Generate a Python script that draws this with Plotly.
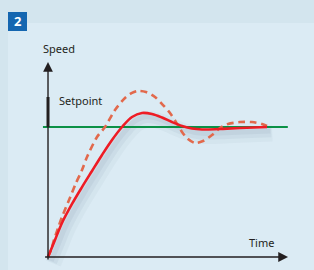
import numpy as np
import plotly.graph_objects as go

# Data (time in arbitrary units, speed relative to setpoint = 1)
time_actual = [0, 0.318, 0.636, 1.091, 1.545, 2.0, 2.455, 2.909, 3.364, 3.818, 4.273,
               4.727, 5.182, 5.636, 6.091, 6.545, 7.0, 7.818, 8.727, 9.955]
speed_actual = [0, 0.131, 0.262, 0.408, 0.538, 0.662, 0.785, 0.900, 1.0, 1.077, 1.108,
                1.100, 1.073, 1.038, 1.008, 0.988, 0.981, 0.985, 0.992, 1.0]

time_dashed = [0, 0.136, 0.273, 0.455, 0.636, 0.955, 1.273, 1.545, 1.773, 2.227, 2.591, 3.045,
               3.5, 3.818, 4.091, 4.455, 4.864, 5.227, 5.545, 5.818, 6.091, 6.364, 6.682,
               7.045, 7.455, 7.818, 8.182, 8.727, 9.273, 9.727, 9.955]
speed_dashed = [0, 0.054, 0.131, 0.223, 0.308, 0.438, 0.569, 0.669, 0.769, 0.923, 1.0, 1.131,
                1.223, 1.262, 1.277, 1.269, 1.231, 1.169, 1.108, 1.038, 0.962, 0.908, 0.877,
                0.892, 0.938, 0.992, 1.023, 1.038, 1.038, 1.023, 1.008]

setpoint = 1.0
x_label = "Time"
y_label = "Speed"
setpoint_label = "Setpoint"
badge = "2"

W, H = 314, 270
# axis ranges chosen so the plot area fills the whole figure
X0, X1 = -2.182, 12.09
Y0, Y1 = -0.10, 1.977

fig = go.Figure()

# soft shadow under the solid curve
ta = np.array(time_actual)
sa = np.array(speed_actual)
for w, a, dx, dy in [(16, 0.05, 0.24, -0.05), (10, 0.07, 0.19, -0.04), (5, 0.08, 0.15, -0.03)]:
    fig.add_trace(go.Scatter(x=ta + dx, y=sa + dy, mode="lines",
                             line=dict(color=f"rgba(90,120,140,{a})", width=w, shape="spline", smoothing=1.0),
                             hoverinfo="skip", showlegend=False))

# setpoint line
fig.add_trace(go.Scatter(x=[-0.23, 10.9], y=[setpoint, setpoint], mode="lines",
                         line=dict(color="#0b9146", width=2.2), showlegend=False))

# dashed response
fig.add_trace(go.Scatter(x=time_dashed, y=speed_dashed, mode="lines",
                         line=dict(color="#e2694c", width=2.6, dash="7px,4.5px", shape="spline", smoothing=0.8),
                         showlegend=False))
# solid response
fig.add_trace(go.Scatter(x=time_actual, y=speed_actual, mode="lines",
                         line=dict(color="#ee1c25", width=2.6, shape="spline", smoothing=1.0),
                         showlegend=False))

axis_col = "#231f20"
shapes = [
    dict(type="rect", xref="paper", yref="paper", x0=0, x1=1, y0=0, y1=1,
         fillcolor="#d3e5ee", line=dict(width=0), layer="below"),
    dict(type="rect", xref="paper", yref="paper", x0=8 / W, x1=1, y0=0, y1=1 - 23 / H,
         fillcolor="#dbebf4", line=dict(width=0), layer="below"),
    dict(type="rect", xref="paper", yref="paper", x0=8 / W, x1=27 / W, y0=1 - 31 / H, y1=1 - 12 / H,
         fillcolor="#1466b0", line=dict(width=0), layer="below"),
    # thick setpoint marker on y axis
    dict(type="line", xref="x", yref="y", x0=0, x1=0, y0=setpoint, y1=1.231,
         line=dict(color=axis_col, width=3)),
]

annotations = [
    # y axis arrow
    dict(x=0, y=1.50, ax=0, ay=-0.03, xref="x", yref="y", axref="x", ayref="y",
         showarrow=True, arrowhead=2, arrowsize=1.4, arrowwidth=1.4, arrowcolor=axis_col, text=""),
    # x axis arrow
    dict(x=10.91, y=0, ax=-0.2, ay=0, xref="x", yref="y", axref="x", ayref="y",
         showarrow=True, arrowhead=2, arrowsize=1.4, arrowwidth=1.4, arrowcolor=axis_col, text=""),
    dict(x=59 / W, y=1 - 48 / H, xref="paper", yref="paper", text=y_label, showarrow=False,
         font=dict(family="Noto Sans", size=11, color=axis_col), xanchor="center", yanchor="middle"),
    dict(x=57 / W, y=1 - 101 / H, xref="paper", yref="paper", text=setpoint_label, showarrow=False,
         font=dict(family="Noto Sans", size=11, color=axis_col), xanchor="left", yanchor="middle"),
    dict(x=261 / W, y=1 - 242 / H, xref="paper", yref="paper", text=x_label, showarrow=False,
         font=dict(family="Noto Sans", size=11, color=axis_col), xanchor="center", yanchor="middle"),
    dict(x=17.5 / W, y=1 - 21.5 / H, xref="paper", yref="paper", text=f"<b>{badge}</b>", showarrow=False,
         font=dict(family="Noto Sans", size=13, color="white"), xanchor="center", yanchor="middle"),
]

fig.update_layout(
    width=W, height=H, margin=dict(l=0, r=0, t=0, b=0),
    paper_bgcolor="#dbebf4", plot_bgcolor="rgba(0,0,0,0)",
    xaxis=dict(range=[X0, X1], visible=False, fixedrange=True),
    yaxis=dict(range=[Y0, Y1], visible=False, fixedrange=True),
    shapes=shapes, annotations=annotations, showlegend=False,
)

fig.write_html("out.html", config={"displayModeBar": False},
               post_script="document.body.style.margin='0';document.body.style.overflow='hidden';")
